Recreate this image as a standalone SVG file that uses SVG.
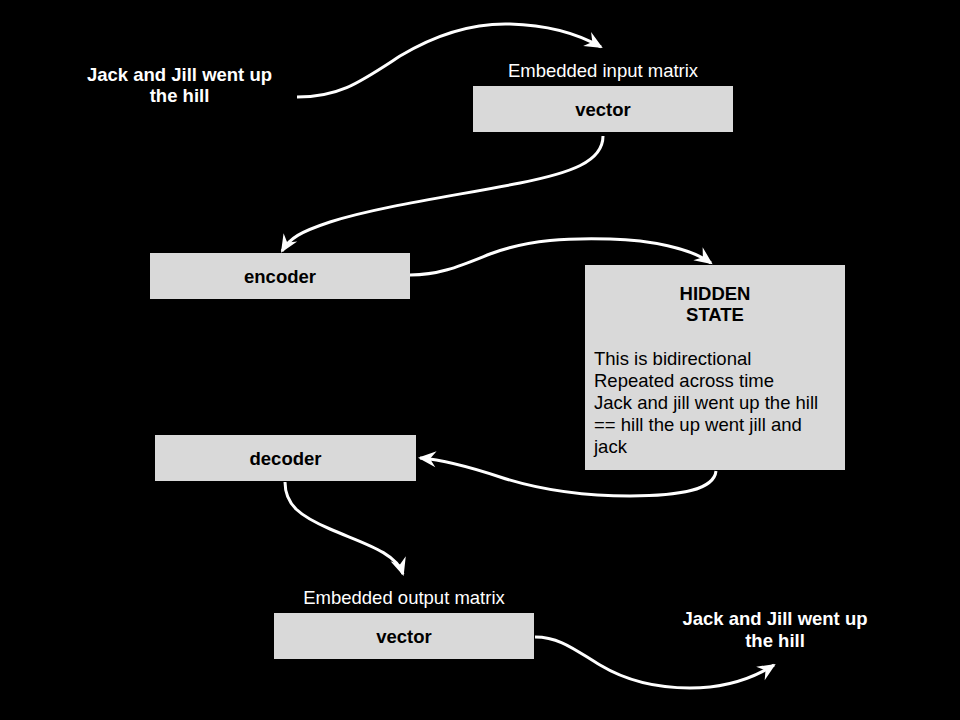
<svg xmlns="http://www.w3.org/2000/svg" width="960" height="720" viewBox="0 0 960 720">
<defs>
<marker id="arr" markerUnits="userSpaceOnUse" viewBox="-20 -10 22 20" refX="-2" refY="0" markerWidth="22" markerHeight="20" orient="auto">
<path d="M0,0 L-18,-8 L-12,0 L-18,8 Z" fill="#ffffff"/>
</marker>
</defs>
<style>
.box{fill:#d9d9d9;stroke:none}
.lbl{font-family:"Liberation Sans",Arial,sans-serif;font-size:18.5px;font-weight:bold;fill:#000;text-anchor:middle}
.wt{font-family:"Liberation Sans",Arial,sans-serif;font-size:18.5px;font-weight:bold;fill:#fff;text-anchor:middle}
.cap{font-family:"Liberation Sans",Arial,sans-serif;font-size:18.5px;fill:#fff;text-anchor:middle}
.body{font-family:"Liberation Sans",Arial,sans-serif;font-size:18.5px;fill:#000}
.edge{fill:none;stroke:#fff;stroke-width:3;marker-end:url(#arr)}
</style>
<rect x="0" y="0" width="960" height="720" fill="#000"/>

<g id="input-text">
<text class="wt" x="179.5" y="81">Jack and Jill went up</text>
<text class="wt" x="179.5" y="102">the hill</text>
</g>

<g id="vector-in">
<text class="cap" x="603" y="77">Embedded input matrix</text>
<rect class="box" x="473" y="86" width="260" height="46"/>
<text class="lbl" x="603" y="115.5">vector</text>
</g>

<g id="encoder">
<rect class="box" x="150" y="253" width="260" height="46"/>
<text class="lbl" x="280" y="282.5">encoder</text>
</g>

<g id="hidden">
<rect class="box" x="585" y="265" width="260" height="205"/>
<text class="lbl" x="715" y="299.5">HIDDEN</text>
<text class="lbl" x="715" y="321">STATE</text>
<text class="body" x="594" y="364.5">This is bidirectional</text>
<text class="body" x="594" y="386.7">Repeated across time</text>
<text class="body" x="594" y="408.9">Jack and jill went up the hill</text>
<text class="body" x="594" y="431.1">== hill the up went jill and</text>
<text class="body" x="594" y="453.3">jack</text>
</g>

<g id="decoder">
<rect class="box" x="155" y="435" width="261" height="46"/>
<text class="lbl" x="285.5" y="464.5">decoder</text>
</g>

<g id="vector-out">
<text class="cap" x="404" y="603.5">Embedded output matrix</text>
<rect class="box" x="274" y="613" width="260" height="46"/>
<text class="lbl" x="404" y="642.5">vector</text>
</g>

<g id="output-text">
<text class="wt" x="775" y="625">Jack and Jill went up</text>
<text class="wt" x="775" y="647">the hill</text>
</g>

<g id="connectors">
<path class="edge" d="M297,97 C340,97 360,82 400,56 C440,32 475,23 510,24 C550,25 580,35 601,47"/>
<path class="edge" d="M603,136 C603,162 570,173 520,183 C460,195 380,206 330,222 C300,232 290,238 282,251"/>
<path class="edge" d="M410,275 C440,275 460,266 490,254 C530,239 570,238 610,239 C650,240 690,248 711,263"/>
<path class="edge" d="M716,471 C714,490 680,496 630,496 C580,496 540,490 500,477 C470,467 445,460 420,458"/>
<path class="edge" d="M285,482 C285,505 300,516 330,529 C362,543 396,552 403,574"/>
<path class="edge" d="M535,637 C560,637 575,650 600,665 C630,683 660,688 690,688 C720,688 750,680 774,665"/>
</g>
</svg>
